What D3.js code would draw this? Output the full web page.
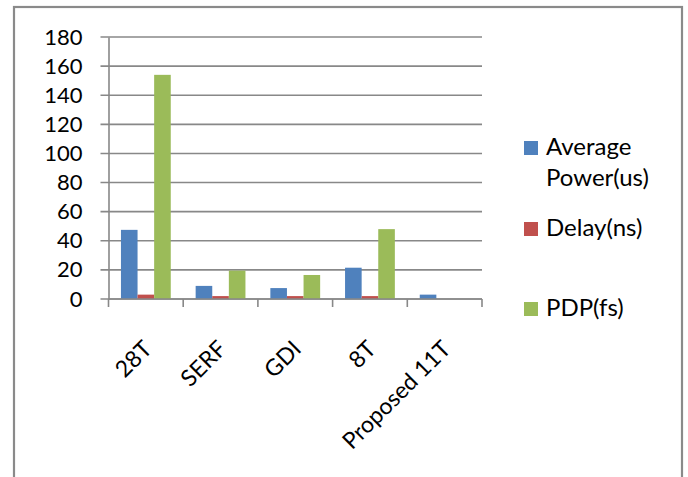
<!DOCTYPE html>
<html>
<head>
<meta charset="utf-8">
<script src="https://cdn.jsdelivr.net/npm/d3@7"></script>
<style>
  html, body { margin: 0; padding: 0; background: #fff; }
  svg { display: block; }
  text { font-family: Lato, "Open Sans", sans-serif; fill: #000; }
</style>
</head>
<body>
<svg id="chart" width="688" height="477"></svg>
<script>
// Adder designs compared
const categories = ["28T", "SERF", "GDI", "8T", "Proposed 11T"];
const seriesNames = ["Average Power(us)", "Delay(ns)", "PDP(fs)"];
const averagePower = [47.5, 9, 7.5, 21.5, 3];
const delay = [3, 2, 2, 2, 0];
const pdp = [154, 19.5, 16.5, 48, 0];
const yTicks = [0, 20, 40, 60, 80, 100, 120, 140, 160, 180];
const colors = ["#4F81BD", "#C0504D", "#9BBB59"];

const seriesValues = [averagePower, delay, pdp];

const svg = d3.select("#chart");

// outer chart frame
svg.append("rect")
  .attr("x", 14).attr("y", 7)
  .attr("width", 668).attr("height", 490)
  .attr("fill", "none")
  .attr("stroke", "#8a8a8a")
  .attr("stroke-width", 2.2);

const plot = { left: 108.5, right: 482, top: 37, bottom: 299 };

const x = d3.scaleBand()
  .domain(categories)
  .range([plot.left, plot.right])
  .paddingInner(0).paddingOuter(0);

const y = d3.scaleLinear()
  .domain([0, 180])
  .range([plot.bottom, plot.top]);

// bars: 3 per cluster, gap of 1.5 bar widths between clusters
const barW = x.bandwidth() / 4.5;
const xs = d3.scaleBand()
  .domain(seriesNames)
  .range([0.75 * barW, 3.75 * barW])
  .padding(0);

// horizontal gridlines
svg.append("g")
  .selectAll("line")
  .data(yTicks)
  .join("line")
  .attr("x1", plot.left - 8)
  .attr("x2", plot.right)
  .attr("y1", d => y(d))
  .attr("y2", d => y(d))
  .attr("stroke", "#888888")
  .attr("stroke-width", 1.6);

// y axis
const yAxis = d3.axisLeft(y).tickValues(yTicks).tickSize(0).tickPadding(26);
const gy = svg.append("g")
  .attr("transform", `translate(${plot.left},0)`)
  .call(yAxis);
gy.select(".domain").attr("stroke", "#888888").attr("stroke-width", 1.6);
gy.selectAll(".tick text")
  .attr("font-family", "Lato, sans-serif")
  .attr("font-size", 22)
  .attr("fill", "#000");

// bars
const groups = svg.append("g")
  .selectAll("g")
  .data(seriesNames)
  .join("g")
  .attr("fill", (d, i) => colors[i]);

groups.selectAll("rect")
  .data((s, i) => categories.map((c, j) => ({ c, s, v: seriesValues[i][j] })))
  .join("rect")
  .attr("x", d => x(d.c) + xs(d.s))
  .attr("width", xs.bandwidth())
  .attr("y", d => y(d.v))
  .attr("height", d => y(0) - y(d.v));

// x axis with ticks at category boundaries
const xAxisG = svg.append("g");
xAxisG.append("line")
  .attr("x1", plot.left).attr("x2", plot.right)
  .attr("y1", plot.bottom).attr("y2", plot.bottom)
  .attr("stroke", "#888888").attr("stroke-width", 1.6);
const boundaries = categories.map(c => x(c)).concat([x(categories[categories.length - 1]) + x.bandwidth()]);
xAxisG.selectAll("line.tk")
  .data(boundaries)
  .join("line")
  .attr("class", "tk")
  .attr("x1", d => d).attr("x2", d => d)
  .attr("y1", plot.bottom).attr("y2", plot.bottom + 8)
  .attr("stroke", "#888888").attr("stroke-width", 1.6);

xAxisG.selectAll("text")
  .data(categories)
  .join("text")
  .attr("transform", c => `translate(${x(c) + x.bandwidth() / 2 - 4},${plot.bottom + 40}) rotate(-45)`)
  .attr("text-anchor", "end")
  .attr("font-size", 23)
  .attr("dy", "0.7em")
  .text(c => c);

// legend
const legendItems = [
  { lines: ["Average", "Power(us)"], top: 141 },
  { lines: ["Delay(ns)"], top: 222 },
  { lines: ["PDP(fs)"], top: 302 }
];
const lg = svg.append("g");
legendItems.forEach((item, i) => {
  lg.append("rect")
    .attr("x", 524).attr("y", item.top)
    .attr("width", 14).attr("height", 14)
    .attr("fill", colors[i]);
  item.lines.forEach((t, k) => {
    lg.append("text")
      .attr("x", 546)
      .attr("y", item.top + 14 + k * 31)
      .attr("font-size", 24)
      .text(t);
  });
});
</script>
</body>
</html>
